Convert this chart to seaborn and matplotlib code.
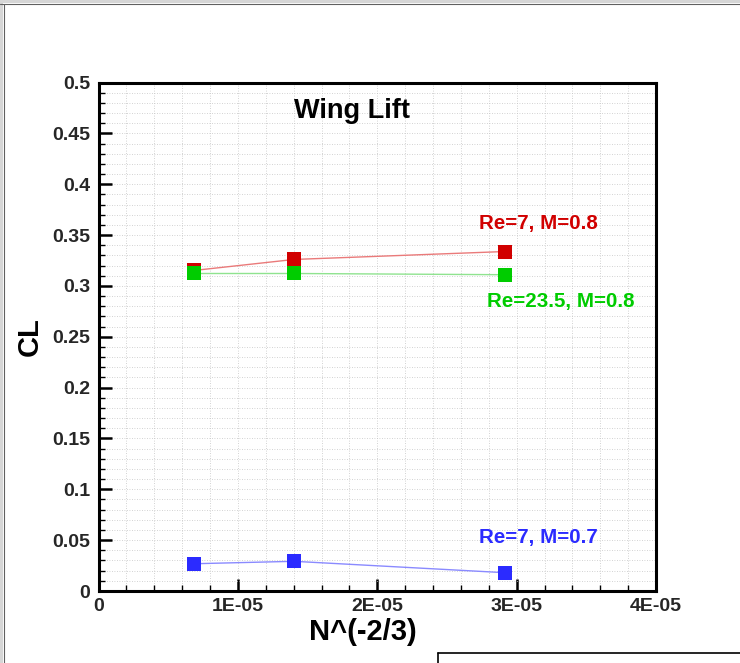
import matplotlib
matplotlib.use("Agg")
import matplotlib.pyplot as plt
import seaborn as sns
import pandas as pd
from matplotlib.ticker import MultipleLocator, FuncFormatter
from matplotlib.patches import Rectangle
from matplotlib.lines import Line2D

# ---- data ----
x_vals = [6.86e-06, 1.403e-05, 2.915e-05]
cl_re7_m08 = [0.3152, 0.3260, 0.3338]
cl_re235_m08 = [0.3122, 0.3122, 0.3110]
cl_re7_m07 = [0.0268, 0.0292, 0.0180]
series_names = ["Re=7, M=0.8", "Re=23.5, M=0.8", "Re=7, M=0.7"]
x_ticks = [0, 1e-05, 2e-05, 3e-05, 4e-05]
x_tick_labels = ["0", "1E-05", "2E-05", "3E-05", "4E-05"]

sns.set_theme(style="white")
plt.rcParams['font.family'] = ['Liberation Sans', 'DejaVu Sans']

fig = plt.figure(figsize=(7.40, 6.63), dpi=100)
ax = fig.add_axes([98.5/740, (663-591)/663, (656-98.5)/740, (591-82.5)/663])

df = pd.DataFrame({
    "x": x_vals * 3,
    "cl": cl_re7_m08 + cl_re235_m08 + cl_re7_m07,
    "series": [series_names[0]]*3 + [series_names[1]]*3 + [series_names[2]]*3,
})

marker_colors = {series_names[0]: "#d10000", series_names[1]: "#00cc00", series_names[2]: "#2b2bff"}
line_colors = {series_names[0]: "#ea7a7a", series_names[1]: "#8fe38f", series_names[2]: "#8a8aff"}

for name in series_names:
    sub = df[df["series"] == name]
    sns.lineplot(data=sub, x="x", y="cl", color=line_colors[name], lw=1.0, ax=ax, zorder=3)
    sns.scatterplot(data=sub, x="x", y="cl", color=marker_colors[name], marker="s",
                    s=95, linewidth=0, ax=ax, zorder=4)

ax.set_xlim(0, 4e-05)
ax.set_ylim(0, 0.5)
ax.set_xticks(x_ticks)
ax.set_xticklabels(x_tick_labels)
ax.xaxis.set_minor_locator(MultipleLocator(2e-06))
ax.yaxis.set_major_locator(MultipleLocator(0.05))
ax.yaxis.set_minor_locator(MultipleLocator(0.01))
ax.yaxis.set_major_formatter(FuncFormatter(lambda v, p: "0" if abs(v) < 1e-9 else f"{v:.2f}".rstrip("0").rstrip(".")))

ax.grid(True, which="both", color="#c4c4c4", linestyle=(0, (1, 2)), linewidth=0.6)
ax.set_axisbelow(True)

for sp in ax.spines.values():
    sp.set_color("black")
    sp.set_linewidth(2.2)
    sp.set_visible(True)

ax.tick_params(axis="both", which="major", direction="in", length=9, width=1.8,
               color="black", labelsize=14, bottom=True, left=True, top=False, right=False)
ax.tick_params(axis="both", which="minor", direction="in", length=4.5, width=1.0,
               color="black", bottom=True, left=True, top=False, right=False)
ax.tick_params(axis="y", which="major", pad=6)
ax.tick_params(axis="x", which="major", pad=5)
for lab in ax.get_xticklabels() + ax.get_yticklabels():
    lab.set_fontweight("bold")

ax.set_xlabel("N^(-2/3)", fontsize=21, fontweight="bold", color="black")
ax.set_ylabel("CL", fontsize=21, fontweight="bold", color="black")
ax.xaxis.set_label_coords(0.475, -0.054)
ax.yaxis.set_label_coords(-0.099, 0.5)

ax.text(0.455, 0.944, "Wing Lift", transform=ax.transAxes, ha="center", va="center",
        fontsize=19.5, fontweight="bold", color="black")
label_pos = {series_names[0]: (538, 223.5), series_names[1]: (561, 301.5), series_names[2]: (538, 537)}
for name in series_names:
    px, py = label_pos[name]
    fig.text(px/740, 1 - py/663, name, ha="center", va="center", fontsize=14.8,
             fontweight="bold", color=marker_colors[name])

if ax.get_legend() is not None:
    ax.get_legend().remove()

# window frame decorations
fig.add_artist(Rectangle((0, 1 - 3/663), 1, 3/663, transform=fig.transFigure,
                         facecolor="#d6d6d6", edgecolor="none"))
fig.add_artist(Rectangle((0, 0), 3/740, 1, transform=fig.transFigure,
                         facecolor="#d6d6d6", edgecolor="none"))
fig.add_artist(Line2D([0, 1], [1 - 3.5/663]*2, transform=fig.transFigure, color="#606060", lw=0.8))
fig.add_artist(Line2D([3.5/740]*2, [0, 1 - 3.5/663], transform=fig.transFigure, color="#606060", lw=0.8))
fig.add_artist(Line2D([437.5/740, 1], [1 - 653/663]*2, transform=fig.transFigure, color="black", lw=1.2))
fig.add_artist(Line2D([437.5/740]*2, [0, 1 - 653/663], transform=fig.transFigure, color="black", lw=1.2))

fig.savefig("out.png", dpi=100)
